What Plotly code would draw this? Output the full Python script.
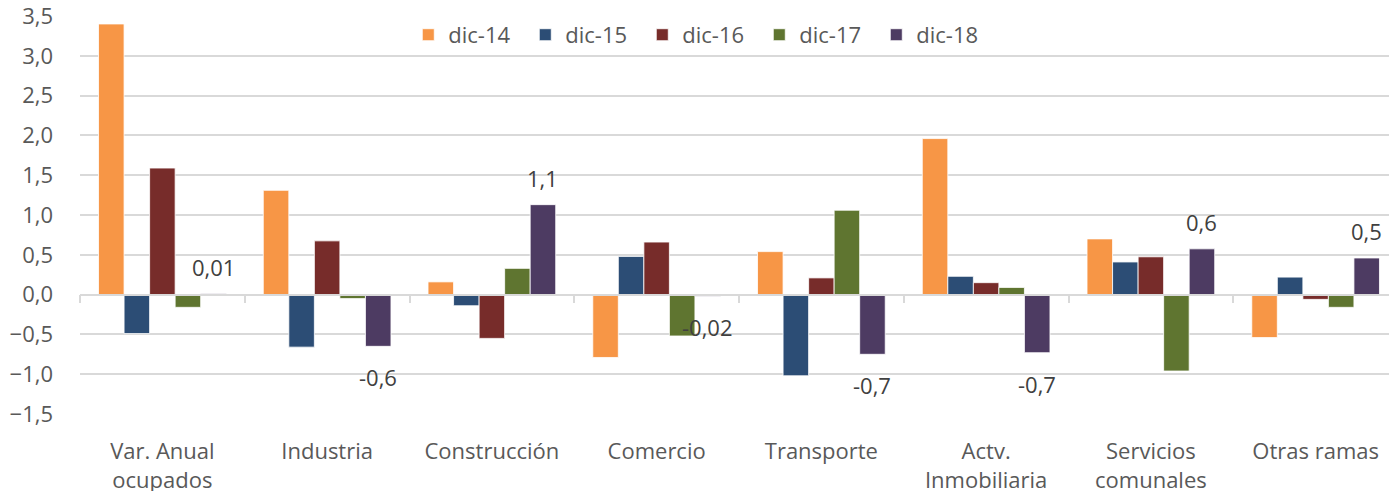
import plotly.graph_objects as go

categories = ["Var. Anual<br>ocupados", "Industria", "Construcción", "Comercio",
              "Transporte", "Actv.<br>Inmobiliaria", "Servicios<br>comunales", "Otras ramas"]
series_names = ["dic-14", "dic-15", "dic-16", "dic-17", "dic-18"]
dic14 = [3.40, 1.31, 0.16, -0.79, 0.54, 1.96, 0.70, -0.54]
dic15 = [-0.49, -0.66, -0.14, 0.48, -1.02, 0.23, 0.41, 0.22]
dic16 = [1.59, 0.675, -0.55, 0.66, 0.21, 0.15, 0.475, -0.06]
dic17 = [-0.16, -0.05, 0.33, -0.52, 1.06, 0.09, -0.96, -0.16]
dic18 = [0.01, -0.65, 1.13, -0.02, -0.75, -0.73, 0.575, 0.46]
dic18_labels = ["0,01", "-0,6", "1,1", "-0,02", "-0,7", "-0,7", "0,6", "0,5"]
colors = ["#F79646", "#2C4D75", "#772C2A", "#5F7530", "#4D3B62"]
y_ticks = [-1.5, -1.0, -0.5, 0.0, 0.5, 1.0, 1.5, 2.0, 2.5, 3.0, 3.5]
boundaries = [-0.5, 0.5, 1.5, 2.5, 3.5, 4.5, 5.5, 6.5, 7.5]

FONT = "Open Sans, Calibri, sans-serif"
W, H = 1397, 491
ML, MR, MT, MB = 72, 7, 6, 85
BARGAP = 0.225

fig = go.Figure()
all_series = [dic14, dic15, dic16, dic17, dic18]
for i, (name, vals) in enumerate(zip(series_names, all_series)):
    fig.add_trace(go.Bar(x=categories, y=vals, name=name, marker_color=colors[i],
                         marker_line=dict(color="rgba(255,255,255,0.8)", width=1)))

# invisible trace to carry the zero-line axis with boundary ticks
fig.add_trace(go.Scatter(x=[boundaries[0], boundaries[-1]], y=[0, 0], xaxis="x2",
                         mode="lines", line=dict(width=0), showlegend=False, hoverinfo="skip"))

# data labels for dic-18, placed on the 5th bar of each group
cat_px = (W - ML - MR) / len(categories)
bar_px = cat_px * (1 - BARGAP) / len(series_names)
offset_px = bar_px * (len(series_names) - 1) / 2
for cat, val, lab in zip(categories, dic18, dic18_labels):
    fig.add_annotation(x=cat, y=val, xref="x", yref="y", text=lab, showarrow=False,
                       xshift=offset_px, yshift=27 if val >= 0 else -31,
                       xanchor="center", yanchor="middle",
                       font=dict(size=22, color="#404040", family=FONT))

fig.update_layout(
    width=W, height=H,
    margin=dict(l=ML, r=MR, t=MT, b=MB),
    plot_bgcolor="white", paper_bgcolor="white",
    separators=",.",
    barmode="group", bargap=BARGAP, bargroupgap=0,
    font=dict(family=FONT, size=22, color="#595959"),
    legend=dict(orientation="h", x=0.471, xanchor="center", y=0.9525, yanchor="middle",
                font=dict(size=22, color="#595959"), bgcolor="rgba(0,0,0,0)",
                entrywidth=72, entrywidthmode="pixels", itemwidth=30),
    xaxis=dict(type="category", range=[-0.5, 7.5], showgrid=False, showline=False,
               zeroline=False, ticks="", ticklabelstandoff=22, automargin=False,
               tickfont=dict(size=22, color="#595959")),
    xaxis2=dict(overlaying="x", anchor="free", position=0.3, range=[boundaries[0], boundaries[-1]],
                tickmode="array", tickvals=boundaries, ticks="outside", ticklen=8,
                tickcolor="#D9D9D9", tickwidth=1.5, showticklabels=False, showgrid=False,
                showline=True, linecolor="#D9D9D9", linewidth=1.5, zeroline=False,
                automargin=False),
    yaxis=dict(range=[-1.5, 3.5], tickmode="array", tickvals=y_ticks, tickformat=".1f",
               showgrid=True, gridcolor="#D9D9D9", gridwidth=1.5, zeroline=False,
               showline=False, ticks="", ticklabelstandoff=26, ticklabeloverflow="allow",
               automargin=False, tickfont=dict(size=22, color="#595959")),
)
fig.write_html("out.html")
